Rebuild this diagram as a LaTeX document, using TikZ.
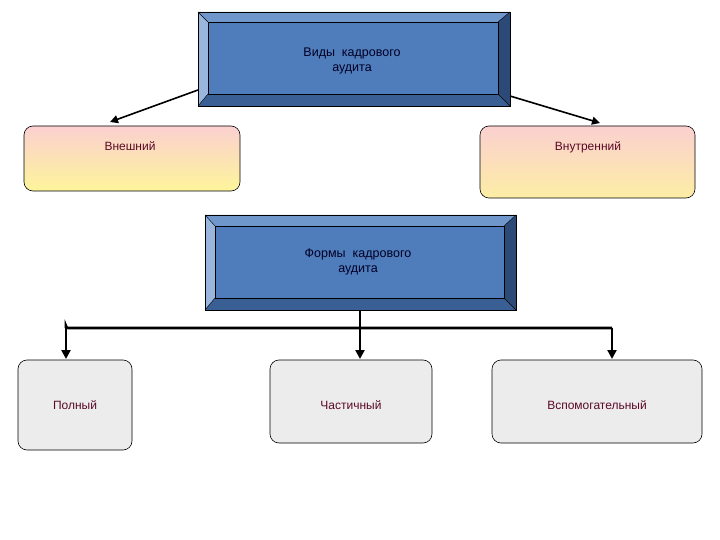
\documentclass[tikz,border=0pt]{standalone}
\usepackage{fontspec}
\setmainfont{Liberation Sans}
\usetikzlibrary{arrows.meta}
\definecolor{bmain}{HTML}{4F7CBA}
\definecolor{btop}{HTML}{6F97CC}
\definecolor{bleft}{HTML}{9AB6DC}
\definecolor{bbot}{HTML}{3A5F94}
\definecolor{bright}{HTML}{2C4A78}
\definecolor{txtred}{HTML}{5A0A28}
\definecolor{pinkc}{HTML}{FBD0D0}
\definecolor{yelc}{HTML}{FDF59A}
\tikzset{
  soft/.style={draw=black, rounded corners=9pt, line width=0.6pt},
  grayb/.style={soft, fill=gray!15},
  conn/.style={line width=2.6pt, -{Triangle[length=9pt,width=9pt]}},
  thinconn/.style={line width=1.6pt, -{Triangle[length=8pt,width=8pt]}},
  lbl/.style={font=\fontsize{12pt}{14pt}\selectfont, text=txtred},
  blbl/.style={font=\fontsize{12.5pt}{15pt}\selectfont, text=black!85!blue, align=center},
}
\newcommand{\bevelbox}[9]{% name, x1,y1,x2,y2, ix1,iy1,ix2,iy2
  \fill[bleft] (#2,#3) -- (#6,#7) -- (#6,#9) -- (#2,#5) -- cycle;
  \fill[btop] (#2,#3) -- (#4,#3) -- (#8,#7) -- (#6,#7) -- cycle;
  \fill[bright] (#4,#3) -- (#4,#5) -- (#8,#9) -- (#8,#7) -- cycle;
  \fill[bbot] (#2,#5) -- (#4,#5) -- (#8,#9) -- (#6,#9) -- cycle;
  \fill[bmain] (#6,#7) rectangle (#8,#9);
  \draw[line width=0.6pt] (#2,#3) rectangle (#4,#5);
  \draw[line width=0.5pt] (#6,#7) rectangle (#8,#9);
  \draw[line width=0.4pt] (#2,#3) -- (#6,#7) (#4,#3) -- (#8,#7) (#2,#5) -- (#6,#9) (#4,#5) -- (#8,#9);
  \coordinate (#1) at ({(#2+#4)/2},{(#3+#5)/2});
}
\begin{document}
\begin{tikzpicture}[x=1pt,y=-1pt]
\useasboundingbox (0,0) rectangle (720,540);
% top box
\bevelbox{top}{198}{12}{510}{106}{208}{22}{498}{94}
\node[blbl] (toplbl) at (352,61) {Виды\ \ кадрового\\аудита};
% second box
\bevelbox{forms}{205}{215}{516}{310}{215}{226}{504}{298}
\node[blbl] (formslbl) at (358,262) {Формы\ \ кадрового\\аудита};
% kinds
\shade[soft, top color=pinkc, bottom color=yelc] (24,126) rectangle (240,191);
\node[lbl] (ext) at (130,146) {Внешний};
\shade[soft, top color=pinkc, bottom color=yelc!80!pinkc] (480,126) rectangle (695,198);
\node[lbl] (int) at (588,147) {Внутренний};
\coordinate (extin) at (110,122);
\coordinate (intin) at (600,123);
\coordinate (topl) at (198,90);
\coordinate (topr) at (510,96);
\draw[thinconn] (topl) -- (extin);
\draw[thinconn] (topr) -- (intin);
% forms
\draw[grayb] (18,360) rectangle (132,450);
\node[lbl] (full) at (75,405) {Полный};
\draw[grayb] (270,360) rectangle (432,443);
\node[lbl] (part) at (351,405) {Частичный};
\draw[grayb] (492,360) rectangle (702,443);
\node[lbl] (aux) at (597,405) {Вспомогательный};
\coordinate (fb) at (360,310);
\coordinate (j) at (360,328);
\coordinate (jl) at (66,328);
\coordinate (jr) at (612,328);
\coordinate (a1) at (66,359);
\coordinate (a2) at (360,359);
\coordinate (a3) at (612,359);
\draw[line width=2.6pt] (fb) -- (j);
\draw[line width=2.6pt, rounded corners=2pt] (a1 |- jl) ++(0,-0) -- (jl) -- (jr);
\draw[conn, rounded corners=3pt] (jl) ++(0,0) -- (a1);
\draw[conn] (j) -- (a2);
\draw[conn] (jr) -- (a3);
\end{tikzpicture}
\end{document}
